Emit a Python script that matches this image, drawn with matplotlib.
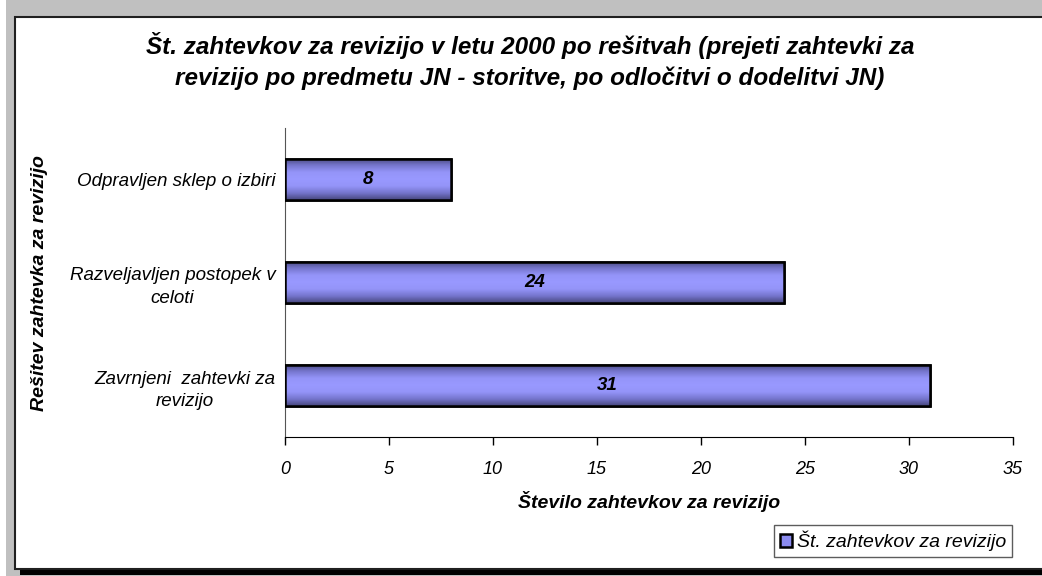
import numpy as np
import matplotlib
matplotlib.use("Agg")
import matplotlib.pyplot as plt
from matplotlib.patches import Rectangle
from matplotlib.colors import LinearSegmentedColormap

plt.rcParams['font.family'] = ['Liberation Sans', 'DejaVu Sans']

categories = ["Odpravljen sklep o izbiri",
              "Razveljavljen postopek v\nceloti",
              "Zavrnjeni  zahtevki za\nrevizijo"]
values = [8, 24, 31]
xticks = [0, 5, 10, 15, 20, 25, 30, 35]
title = ("Št. zahtevkov za revizijo v letu 2000 po rešitvah (prejeti zahtevki za\n"
         "revizijo po predmetu JN - storitve, po odločitvi o dodelitvi JN)")
xlabel = "Število zahtevkov za revizijo"
ylabel = "Rešitev zahtevka za revizijo"
series_name = "Št. zahtevkov za revizijo"

W, H = 1042, 576
fig = plt.figure(figsize=(W / 100, H / 100), dpi=100)
fig.patch.set_facecolor('white')

# gray frame and white chart area
fig.patches.append(Rectangle((6 / W, 0), 1, 1, transform=fig.transFigure,
                             facecolor='#c0c0c0', edgecolor='none', zorder=-3))
fig.patches.append(Rectangle((20 / W, 1 - 575 / H), 1, 5 / H, transform=fig.transFigure,
                             facecolor='black', edgecolor='none', zorder=-2))
fig.patches.append(Rectangle((15 / W, 1 - 569 / H), 1, (569 - 17) / H,
                             transform=fig.transFigure, facecolor='white',
                             edgecolor='#202020', linewidth=1.5, zorder=-1))

ax = fig.add_axes([285 / W, 1 - 437 / H, (1013 - 285) / W, (437 - 128) / H])
ax.set_facecolor('none')

y = np.arange(len(categories))
bars = ax.barh(y, values, height=0.4, color='#8c8cf0', edgecolor='black',
               linewidth=1.8, zorder=3, label=series_name)
legend_handle = bars[0]

cmap = LinearSegmentedColormap.from_list('g', ['#46467c', '#7575cc', '#9494f8',
                                                '#9999ff', '#9494f8', '#7575cc', '#46467c'])
grad = np.linspace(0, 1, 256).reshape(-1, 1)
for b in bars:
    x0, y0 = b.get_x(), b.get_y()
    w, h = b.get_width(), b.get_height()
    im = ax.imshow(grad, cmap=cmap, aspect='auto', extent=[x0, x0 + w, y0 + h, y0],
                   zorder=3.5, interpolation='bilinear')
    im.set_clip_path(b)
    outline = Rectangle((x0, y0), w, h, facecolor='none', edgecolor='black',
                        linewidth=1.8, zorder=3.8)
    ax.add_patch(outline)

for yi, v in zip(y, values):
    ax.text(v / 2, yi, str(v), ha='center', va='center', fontsize=13.5,
            fontweight='bold', fontstyle='italic', zorder=4)

ax.set_xlim(0, 35)
ax.set_ylim(2.5, -0.5)
ax.set_xticks(xticks)
ax.set_xticklabels([str(t) for t in xticks], fontsize=13, fontstyle='italic')
ax.set_yticks(y)
ax.set_yticklabels(categories, fontsize=13.5, fontstyle='italic',
                   multialignment='center', linespacing=1.45)
ax.tick_params(axis='y', length=0, pad=7)
ax.tick_params(axis='x', direction='out', length=6, width=1, pad=11)
for s in ['top', 'right']:
    ax.spines[s].set_visible(False)
ax.spines['left'].set_color('#555555')
ax.spines['bottom'].set_color('black')

ax.set_xlabel(xlabel, fontsize=14, fontweight='bold', fontstyle='italic', labelpad=10)
fig.text(40 / W, 1 - 283 / H, ylabel, rotation=90, ha='center', va='center',
         fontsize=14, fontweight='bold', fontstyle='italic')
fig.text(530 / W, 1 - 61 / H, title, ha='center', va='center', fontsize=17.5,
         fontweight='bold', fontstyle='italic', linespacing=1.4)

leg = fig.legend(handles=[legend_handle], labels=[series_name], loc='center',
                 bbox_to_anchor=(893 / W, 1 - 541 / H),
                 prop={'style': 'italic', 'size': 14}, frameon=True, fancybox=False,
                 handlelength=0.6, handleheight=0.6, handletextpad=0.25,
                 borderpad=0.3, borderaxespad=0)
leg.get_frame().set_edgecolor('#333333')
leg.get_frame().set_linewidth(1)

fig.savefig('out.png', dpi=100)
